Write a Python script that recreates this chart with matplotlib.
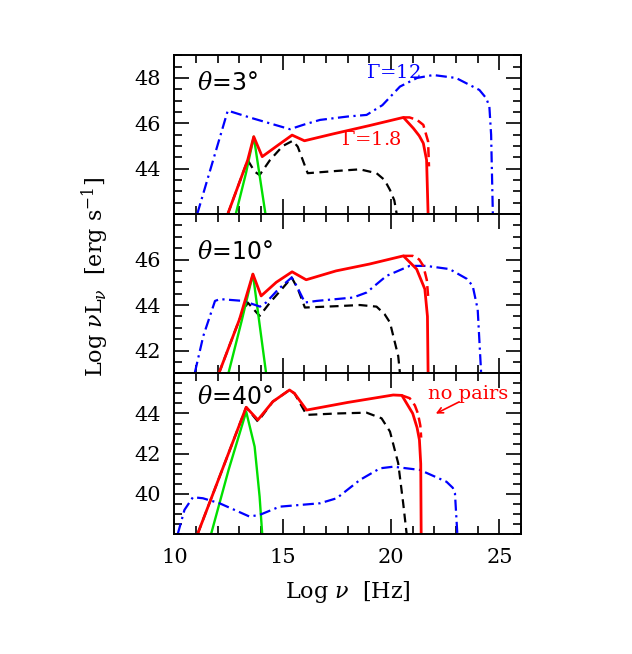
import matplotlib
matplotlib.use('Agg')
import matplotlib.pyplot as plt
from matplotlib.ticker import MultipleLocator

plt.rcParams['font.family'] = ['DejaVu Serif']
plt.rcParams['mathtext.fontset'] = 'dejavuserif'

# ---- data (log nu, log nuL_nu) ----
# theta = 3 deg
t3_blue_x = [11.05, 12.46, 13.5, 15.33, 16.0, 16.72, 18.0, 18.87, 19.6, 20.41, 21.2, 21.95, 23.0, 24.08, 24.4, 24.54, 24.62, 24.7]
t3_blue_y = [42.0, 46.56, 46.25, 45.74, 45.95, 46.15, 46.3, 46.37, 46.8, 47.62, 48.0, 48.13, 48.0, 47.47, 47.1, 46.73, 45.5, 42.0]
t3_red_x = [12.46, 13.38, 13.66, 14.05, 14.8, 15.43, 16.0, 17.31, 19.0, 20.57, 21.03, 21.3, 21.49, 21.64, 21.71]
t3_red_y = [42.0, 44.38, 45.41, 44.53, 45.05, 45.48, 45.23, 45.53, 45.9, 46.26, 45.78, 45.45, 45.12, 44.38, 42.0]
t3_reddash_x = [20.57, 20.85, 21.2, 21.49, 21.71, 21.75]
t3_reddash_y = [46.26, 46.26, 46.15, 45.93, 45.2, 44.1]
t3_black_x = [12.46, 13.38, 13.7, 13.93, 14.41, 15.0, 15.46, 15.69, 16.15, 17.5, 18.56, 19.33, 19.7, 19.95, 20.15, 20.26]
t3_black_y = [42.0, 44.38, 43.87, 43.72, 44.38, 45.0, 45.23, 44.97, 43.8, 43.9, 43.97, 43.8, 43.5, 43.06, 42.6, 42.0]
t3_green_x = [12.83, 13.3, 13.66, 14.2]
t3_green_y = [42.0, 43.8, 45.41, 42.0]

# theta = 10 deg
t10_blue_x = [10.94, 11.33, 11.87, 12.1, 13.18, 13.95, 14.23, 14.8, 15.41, 15.64, 16.02, 16.56, 18.25, 18.87, 19.79, 20.86, 21.62, 22.7, 23.5, 23.77, 24.0, 24.16]
t10_blue_y = [41.03, 42.64, 44.18, 44.26, 44.18, 43.93, 44.11, 44.7, 45.21, 44.84, 44.11, 44.18, 44.33, 44.55, 45.28, 45.72, 45.72, 45.58, 45.15, 44.84, 43.81, 41.0]
t10_red_x = [12.05, 13.0, 13.62, 14.0, 14.7, 15.43, 16.08, 17.46, 19.0, 20.57, 21.18, 21.56, 21.68, 21.71]
t10_red_y = [41.0, 43.37, 45.36, 44.4, 45.0, 45.46, 45.11, 45.5, 45.8, 46.16, 45.58, 44.7, 43.5, 41.0]
t10_reddash_x = [20.57, 21.0, 21.3, 21.49, 21.65, 21.71]
t10_reddash_y = [46.16, 46.16, 46.0, 45.72, 45.1, 44.4]
t10_black_x = [12.05, 13.0, 13.38, 13.93, 14.41, 15.0, 15.41, 15.7, 16.02, 17.5, 18.56, 19.33, 19.7, 19.95, 20.33, 20.41]
t10_black_y = [41.0, 43.37, 44.11, 43.52, 44.11, 44.75, 45.21, 44.7, 43.89, 43.95, 44.0, 43.93, 43.6, 43.23, 41.76, 41.0]
t10_green_x = [12.49, 13.1, 13.62, 14.23]
t10_green_y = [41.0, 43.3, 45.36, 41.0]

# theta = 40 deg
t40_blue_x = [10.15, 10.46, 10.85, 11.31, 12.08, 13.46, 13.93, 14.85, 16.72, 17.49, 18.56, 19.49, 20.1, 21.33, 22.56, 22.85, 22.95, 23.06]
t40_blue_y = [38.0, 39.2, 39.83, 39.78, 39.53, 38.87, 38.95, 39.36, 39.53, 39.78, 40.69, 41.27, 41.35, 41.19, 40.6, 40.3, 40.03, 38.0]
t40_red_x = [11.08, 13.31, 13.85, 14.54, 15.31, 15.54, 16.1, 18.0, 20.1, 20.5, 21.0, 21.2, 21.31, 21.37, 21.39]
t40_red_y = [38.04, 44.31, 43.68, 44.59, 45.17, 45.0, 44.17, 44.55, 44.92, 44.9, 44.0, 43.3, 42.68, 41.5, 38.0]
t40_reddash_x = [20.5, 20.86, 21.1, 21.24, 21.35, 21.39]
t40_reddash_y = [44.9, 44.76, 44.4, 44.0, 43.4, 42.8]
t40_black_x = [11.08, 13.31, 13.85, 14.54, 15.31, 15.54, 16.1, 17.5, 18.87, 19.56, 19.95, 20.33, 20.56, 20.72]
t40_black_y = [38.04, 44.31, 43.6, 44.59, 45.17, 45.0, 43.93, 44.0, 44.04, 43.76, 43.1, 41.52, 39.53, 38.0]
t40_green_x = [11.69, 12.5, 13.31, 13.7, 13.93, 14.05]
t40_green_y = [38.0, 41.2, 44.09, 42.35, 39.86, 38.0]

panels = [
    ('3', (42, 49), [48, 46, 44], t3_blue_x, t3_blue_y, t3_red_x, t3_red_y, t3_reddash_x, t3_reddash_y,
     t3_black_x, t3_black_y, t3_green_x, t3_green_y),
    ('10', (41, 48), [46, 44, 42], t10_blue_x, t10_blue_y, t10_red_x, t10_red_y, t10_reddash_x, t10_reddash_y,
     t10_black_x, t10_black_y, t10_green_x, t10_green_y),
    ('40', (38, 46), [44, 42, 40], t40_blue_x, t40_blue_y, t40_red_x, t40_red_y, t40_reddash_x, t40_reddash_y,
     t40_black_x, t40_black_y, t40_green_x, t40_green_y),
]
theta_ypos = [0.827, 0.761, 0.854]

fig = plt.figure(figsize=(6.32, 6.54), dpi=100)
W, H = 632.0, 654.0
left, right = 174.5, 521.0
edges = [55.3, 214.0, 373.3, 534.0]

axes = []
for i, (th, ylim, yt, bx, by, rx, ry, rdx, rdy, kx, ky, gx, gy) in enumerate(panels):
    top, bot = edges[i], edges[i + 1]
    ax = fig.add_axes([left / W, 1 - bot / H, (right - left) / W, (bot - top) / H])
    axes.append(ax)

    ax.plot(kx, ky, color='black', lw=1.6, ls=(0, (4, 2.5)))
    ax.plot(gx, gy, color='#00e000', lw=1.7)
    ax.plot(bx, by, color='blue', lw=1.6, ls=(0, (5, 2, 1, 2)))
    ax.plot(rdx, rdy, color='red', lw=1.8, ls=(0, (4, 2)))
    ax.plot(rx, ry, color='red', lw=2.0)

    ax.set_xlim(10, 26)
    ax.set_ylim(*ylim)
    ax.set_yticks(yt)
    ax.xaxis.set_major_locator(MultipleLocator(5))
    ax.xaxis.set_minor_locator(MultipleLocator(1))
    ax.yaxis.set_minor_locator(MultipleLocator(0.5))
    ax.tick_params(which='both', direction='in', top=True, right=True, labelsize=15, width=1.2)
    ax.tick_params(which='major', length=11, pad=10)
    ax.tick_params(which='minor', length=5.5)
    for s in ax.spines.values():
        s.set_linewidth(1.4)
    if i < 2:
        ax.tick_params(labelbottom=False)

    ax.text(0.065, theta_ypos[i], r'$\theta$=' + th + '°', transform=ax.transAxes,
            fontsize=17, family='DejaVu Sans', ha='left', va='center')

axes[0].text(20.1, 48.2, r'$\Gamma$=12', color='blue', fontsize=14, ha='center', va='center')
axes[0].text(19.1, 45.27, r'$\Gamma$=1.8', color='red', fontsize=14, ha='center', va='center')
axes[2].text(23.55, 44.95, 'no pairs', color='red', fontsize=14, ha='center', va='center')
axes[2].annotate('', xy=(21.95, 43.93), xytext=(23.26, 44.64),
                 arrowprops=dict(arrowstyle='->', color='red', lw=1.2))

fig.text(348 / W, 1 - 592 / H, r'Log $\nu$  [Hz]', fontsize=16, ha='center', va='center')
fig.text(95 / W, 1 - 277 / H, r'Log $\nu$L$_\nu$  [erg s$^{-1}$]', rotation=90,
         fontsize=16, ha='center', va='center')

plt.savefig('out.png', dpi=100)
plt.close()
